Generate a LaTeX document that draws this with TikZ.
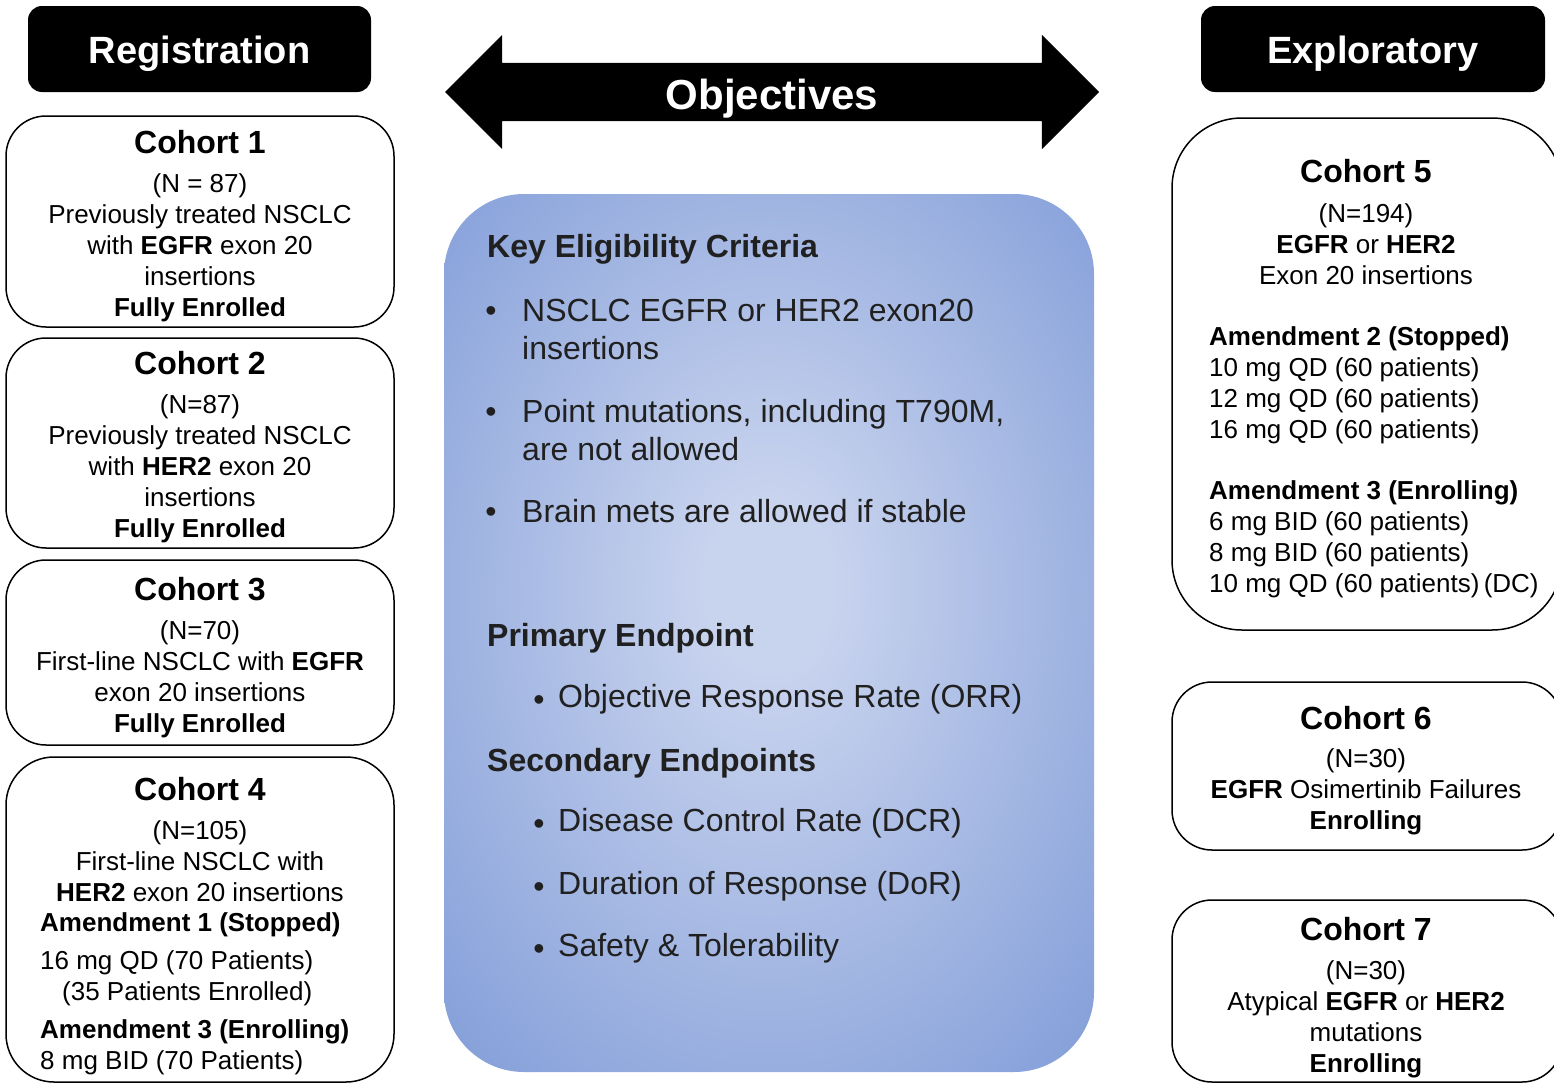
\documentclass[tikz,border=0pt]{standalone}
\usepackage{fontspec}
\setmainfont{Liberation Sans}
\usepackage{xcolor}
\usepackage{tikz}
\usetikzlibrary{positioning,shapes.arrows}
\definecolor{keyblue}{RGB}{122,151,214}
\definecolor{keylight}{RGB}{200,211,238}
\definecolor{inkgray}{RGB}{32,32,32}
\pgfdeclareradialshading[keyblue,keylight]{keyglow}{\pgfpoint{0bp}{3bp}}{color(0bp)=(keylight); color(5bp)=(keylight); color(40bp)=(keyblue); color(62bp)=(keyblue!90!black)}

\begin{document}
\begin{tikzpicture}[x=1pt, y=-1pt, >=latex]
  \tikzset{header/.style={fill=black, rounded corners=14pt, minimum width=343pt, minimum height=86pt, text=white, text height=28pt, text depth=0pt, font=\fontsize{38}{38}\selectfont\bfseries},cohort/.style={draw, line width=1.5pt, rounded corners=40pt, minimum width=388pt},ctitle/.style={inner sep=0pt, font=\fontsize{32}{32}\selectfont\bfseries},cbody/.style={inner sep=0pt, align=center, font=\fontsize{26}{31}\selectfont},cleft/.style={cbody, align=left, anchor=west},keyhead/.style={inner sep=0pt, anchor=west, text=inkgray, font=\fontsize{32}{32}\selectfont\bfseries},keyitem/.style={inner sep=0pt, anchor=west, align=left, text=inkgray, font=\fontsize{32}{38}\selectfont},bul/.style={inner sep=0pt, text=inkgray, font=\fontsize{32}{38}\selectfont}}
  \useasboundingbox (0,0) rectangle (1554,1084);
  \clip (0,0) rectangle (1554,1084);

  \node[header] (reg) at (199.5,49) {Registration};
  \node[header, minimum width=344pt] (expl) at (1373,49) {Exploratory};
  \node[double arrow, fill=black, double arrow head extend=28pt, double arrow tip angle=90, minimum height=654pt, inner sep=0pt, text height=46pt, text depth=12pt, text=white, font=\fontsize{42}{42}\selectfont\bfseries] (obj) at (772,92) {Objectives};

  \node[rounded corners=80pt, shading=keyglow, minimum width=650pt, minimum height=878pt] (crit) at (769,633) {};
  \node[keyhead] (elig) at (487,249) {Key Eligibility Criteria};
  \node[bul] (b1) at (491,314) {•};
  \node[keyitem] (e1) at (522,329) {NSCLC EGFR or HER2 exon20\\insertions};
  \node[bul] (b2) at (491,415) {•};
  \node[keyitem] (e2) at (522,430) {Point mutations, including T790M,\\are not allowed};
  \node[bul] (b3) at (491,515) {•};
  \node[keyitem] (e3) at (522,511) {Brain mets are allowed if stable};
  \node[keyhead] (prim) at (487,638) {Primary Endpoint};
  \node[bul] (b4) at (539,703) {•};
  \node[keyitem] (p1) at (558,699) {Objective Response Rate (ORR)};
  \node[keyhead] (sec) at (487,763) {Secondary Endpoints};
  \node[bul] (b5) at (539,827) {•};
  \node[keyitem] (s1) at (558,823) {Disease Control Rate (DCR)};
  \node[bul] (b6) at (539,890) {•};
  \node[keyitem] (s2) at (558,886) {Duration of Response (DoR)};
  \node[bul] (b7) at (539,952) {•};
  \node[keyitem] (s3) at (558,948) {Safety \& Tolerability};

  \node[cohort, minimum height=211pt] (c1) at (200,221.5) {};
  \node[ctitle] (c1t) at (200,142) {Cohort 1};
  \node[cbody] (c1b) at (200,247.5) {(N = 87)\\Previously treated NSCLC\\with \textbf{EGFR} exon 20\\insertions\\\textbf{Fully Enrolled}};
  \node[cohort, minimum height=210pt] (c2) at (200,443) {};
  \node[ctitle] (c2t) at (200,363) {Cohort 2};
  \node[cbody] (c2b) at (200,468.5) {(N=87)\\Previously treated NSCLC\\with \textbf{HER2} exon 20\\insertions\\\textbf{Fully Enrolled}};
  \node[cohort, minimum height=185pt] (c3) at (200,652.5) {};
  \node[ctitle] (c3t) at (200,589) {Cohort 3};
  \node[cbody] (c3b) at (200,679) {(N=70)\\First-line NSCLC with \textbf{EGFR}\\exon 20 insertions\\\textbf{Fully Enrolled}};
  \node[cohort, minimum height=325pt, rounded corners=48pt] (c4) at (200,919.5) {};
  \node[ctitle] (c4t) at (200,789) {Cohort 4};
  \node[cbody] (c4b) at (200,861.5) {(N=105)\\First-line NSCLC with\\\textbf{HER2} exon 20 insertions};
  \node[cleft] (c4a) at (40,925) {\textbf{Amendment 1 (Stopped)}};
  \node[cleft] (c4d) at (40,978.5) {16 mg QD (70 Patients)\\\hspace*{22pt}(35 Patients Enrolled)};
  \node[cleft] (c4e) at (40,1047.5) {\textbf{Amendment 3 (Enrolling)}\\8 mg BID (70 Patients)};

  \node[cohort, minimum width=390pt, minimum height=512pt, rounded corners=70pt] (c5) at (1367,374) {};
  \node[ctitle] (c5t) at (1366,171) {Cohort 5};
  \node[cbody] (c5b) at (1366,244.5) {(N=194)\\\textbf{EGFR} or \textbf{HER2}\\Exon 20 insertions};
  \node[cleft] (c5a) at (1209,385) {\textbf{Amendment 2 (Stopped)}\\10 mg QD (60 patients)\\12 mg QD (60 patients)\\16 mg QD (60 patients)};
  \node[cleft] (c5c) at (1209,539.5) {\textbf{Amendment 3 (Enrolling)}\\6 mg BID (60 patients)\\8 mg BID (60 patients)\\10 mg QD (60 patients)\,(DC)};
  \node[cohort, minimum width=390pt, minimum height=168pt] (c6) at (1367,766) {};
  \node[ctitle] (c6t) at (1366,718) {Cohort 6};
  \node[cbody] (c6b) at (1366,792) {(N=30)\\\textbf{EGFR} Osimertinib Failures\\\textbf{Enrolling}};
  \node[cohort, minimum width=390pt, minimum height=182pt] (c7) at (1367,991) {};
  \node[ctitle] (c7t) at (1366,929) {Cohort 7};
  \node[cbody] (c7b) at (1366,1019.5) {(N=30)\\Atypical \textbf{EGFR} or \textbf{HER2}\\mutations\\\textbf{Enrolling}};
\end{tikzpicture}
\end{document}
